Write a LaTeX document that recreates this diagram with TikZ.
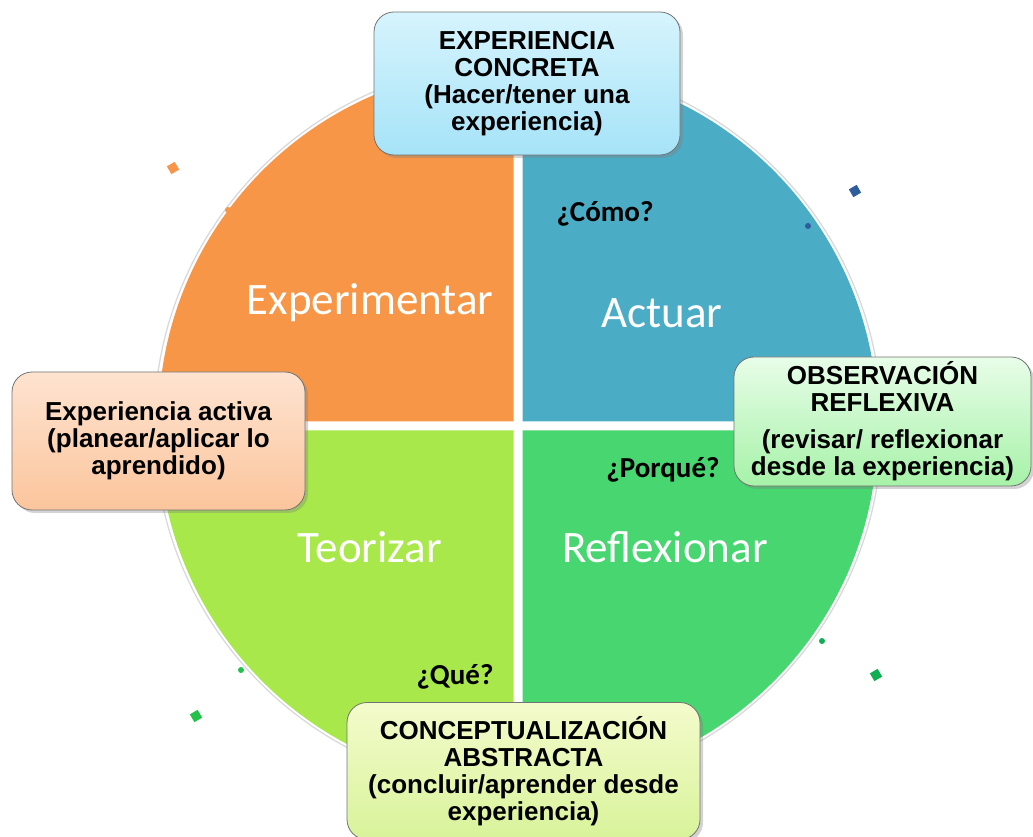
\documentclass[tikz,border=0pt]{standalone}
\usepackage{fontspec}
\setmainfont{Liberation Sans}
\newfontfamily\calfont{Carlito}
\usepackage{tikz}
\usetikzlibrary{shadows}
\definecolor{quadorange}{HTML}{F79646}
\definecolor{quadblue}{HTML}{4BACC6}
\definecolor{quadgreen}{HTML}{47D670}
\definecolor{quadlime}{HTML}{A9E84B}
\definecolor{dotblue}{HTML}{2F5C9C}
\definecolor{dotgreen}{HTML}{22C24A}
\definecolor{dotdark}{HTML}{12AE52}
\definecolor{skytop}{HTML}{D6F4FD}
\definecolor{skybot}{HTML}{A6E3F8}
\definecolor{minttop}{HTML}{E8FDE8}
\definecolor{mintbot}{HTML}{A6F2A8}
\definecolor{peachtop}{HTML}{FEE3D0}
\definecolor{peachbot}{HTML}{FBC59C}
\definecolor{limetop}{HTML}{F4FBCC}
\definecolor{limebot}{HTML}{D8F39A}
\tikzset{
  phase/.style={draw=black!55, line width=0.8pt, rounded corners=20pt, align=center,
    font=\fontsize{26}{27}\selectfont\bfseries, inner sep=4pt,
    drop shadow={opacity=0.35, shadow xshift=3pt, shadow yshift=-3pt}},
  quadlabel/.style={text=white, font=\calfont\fontsize{45}{48}\selectfont},
  question/.style={text=black, font=\calfont\bfseries\fontsize{29}{30}\selectfont},
  confetti/.style={fill=#1, rotate=30, minimum size=9pt, inner sep=0pt}
}

\begin{document}
\begin{tikzpicture}[x=1pt, y=1pt]
  \useasboundingbox (0,0) rectangle (1033,836);

  % outer ring
  \draw[black!15, line width=1.3pt] (518,410) circle[radius=364];

  % quadrants
  \fill[quadorange] (513.5,414.5) -- ++(180:355) arc[start angle=180, end angle=90, radius=355] -- cycle;
  \fill[quadblue] (522.5,414.5) -- ++(90:355) arc[start angle=90, end angle=0, radius=355] -- cycle;
  \fill[quadgreen] (522.5,405.5) -- ++(0:355) arc[start angle=0, end angle=-90, radius=355] -- cycle;
  \fill[quadlime] (513.5,405.5) -- ++(270:355) arc[start angle=270, end angle=180, radius=355] -- cycle;

  \node[quadlabel] (exper) at (370,533) {Experimentar};
  \node[quadlabel] (actuar) at (662,523) {Actuar};
  \node[quadlabel] (teor) at (370,289) {Teorizar};
  \node[quadlabel] (refl) at (665,289) {Reflexionar};

  \node[question] (como) at (605,622) {¿Cómo?};
  \node[question] (porque) at (663,366) {¿Porqué?};
  \node[question] (que) at (455,159) {¿Qué?};

  % small squares and dots
  \node[confetti=quadorange] (sq1) at (173,668) {};
  \node[confetti=dotblue] (sq2) at (855,645) {};
  \node[confetti=dotgreen] (sq3) at (196,120) {};
  \node[confetti=dotdark] (sq4) at (876,161) {};
  \fill[quadorange] (228,626) circle[radius=3];
  \fill[dotblue] (808,610) circle[radius=3];
  \fill[dotgreen] (241,166) circle[radius=3];
  \fill[dotdark] (822,195) circle[radius=3];

  % boxes
  \node[phase, top color=skytop, bottom color=skybot, minimum width=306pt, minimum height=143pt]
    (concreta) at (527,752.5)
    {EXPERIENCIA\\CONCRETA\\(Hacer/tener una\\experiencia)};
  \node[phase, top color=minttop, bottom color=mintbot, minimum width=297pt, minimum height=129pt]
    (observ) at (882.5,414.5)
    {OBSERVACIÓN\\REFLEXIVA\\[10pt](revisar/ reflexionar\\desde la experiencia)};
  \node[phase, top color=peachtop, bottom color=peachbot, minimum width=293pt, minimum height=138pt]
    (activa) at (158.5,395)
    {Experiencia activa\\(planear/aplicar lo\\aprendido)};
  \node[phase, top color=limetop, bottom color=limebot, minimum width=353pt, minimum height=137pt]
    (abstracta) at (523.5,65)
    {CONCEPTUALIZACIÓN\\ABSTRACTA\\(concluir/aprender desde\\experiencia)};
\end{tikzpicture}
\end{document}
